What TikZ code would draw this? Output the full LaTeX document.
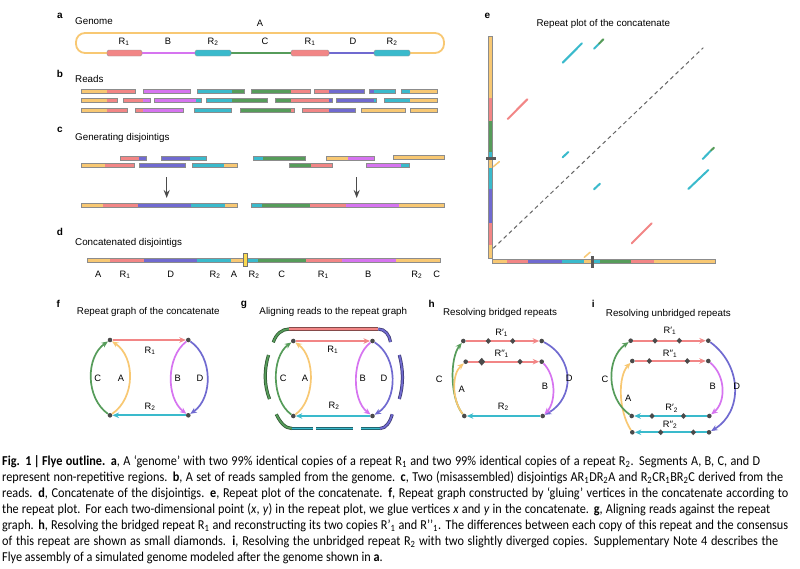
\documentclass[tikz,border=0pt]{standalone}
\usepackage{fontspec}
\setmainfont{Liberation Sans}
\newfontfamily\capfont{Carlito}[FakeStretch=0.9]
\usetikzlibrary{arrows.meta,shapes.geometric}
\definecolor{cA}{HTML}{F8C873}
\definecolor{cR}{HTML}{F28686}
\definecolor{cB}{HTML}{D674F0}
\definecolor{cT}{HTML}{3ABACC}
\definecolor{cC}{HTML}{569C5A}
\definecolor{cD}{HTML}{706AD0}
\definecolor{dotc}{HTML}{4A4A4A}
\tikzset{
 rdo/.style={draw=black!45, line width=0.5pt},
 dot/.style={circle, fill=dotc, inner sep=0pt, minimum size=4.6pt},
 dia/.style={diamond, fill=dotc, inner sep=0pt, minimum width=5.5pt, minimum height=6pt},
 bigdia/.style={diamond, fill=dotc, inner sep=0pt, minimum width=7pt, minimum height=8pt},
 edge/.style={line width=1.7pt, -{Stealth[length=6.5pt,width=5.5pt]}},
 lbl/.style={font=\fontsize{9.3}{10}\selectfont, inner sep=0pt},
 ttl/.style={font=\fontsize{9.8}{11}\selectfont, inner sep=0pt},
 plet/.style={font=\bfseries\fontsize{10}{11}\selectfont, inner sep=0pt},
 diag/.style={line width=2pt, line cap=round},
 garrow/.style={-{Stealth[length=8pt,width=6pt]}, line width=1.3pt, black!70},
 repbar/.style={draw=black!40, line width=0.4pt, rounded corners=1.5pt},
 captxt/.style={anchor=base west, inner sep=0pt, font=\capfont\fontsize{13.6}{16}\selectfont}
}
\newcommand\readbar[3]{%
  \xdef\rdx{#2}%
  \foreach \rdxe/\rdcol in {#3}{%
    \fill[\rdcol] (\rdx,#1-2) rectangle (\rdxe,#1+2);
    \xdef\rdx{\rdxe}}%
  \draw[rdo] (#2,#1-2) rectangle (\rdx,#1+2);}
\newcommand\vreadbar[3]{%
  \xdef\rdx{#2}%
  \foreach \rdxe/\rdcol in {#3}{%
    \fill[\rdcol] (#1-2,\rdx) rectangle (#1+2,\rdxe);
    \xdef\rdx{\rdxe}}%
  \draw[rdo] (#1-2,#2) rectangle (#1+2,\rdx);}
\newcommand\gread[2]{\draw[line width=3.2pt, #1!55!black] #2; \draw[line width=1.7pt, #1] #2;}
\begin{document}
\begin{tikzpicture}[x=1pt,y=-1pt]
\useasboundingbox (0,0) rectangle (800,568);
\fill[white] (0,0) rectangle (800,568);

% ---------- panel a ----------
\node[plet] (pa) at (60,16) {a};
\node[ttl, anchor=west] (ta) at (75,21) {Genome};
\draw[cA, line width=1.8pt, rounded corners=9pt] (410,53) -- (444,53) -- (444,33) -- (76,33) -- (76,53) -- (107,53);
\draw[cB, line width=1.8pt] (142,53) -- (195,53);
\draw[cC, line width=1.8pt] (231,53) -- (291,53);
\draw[cD, line width=1.8pt] (329,53) -- (374,53);
\draw[repbar, fill=cR] (107,50) rectangle (142,56);
\draw[repbar, fill=cT] (195,50) rectangle (231,56);
\draw[repbar, fill=cR] (291,50) rectangle (329,56);
\draw[repbar, fill=cT] (374,50) rectangle (410,56);
\node[lbl] (aA) at (260,23) {A};
\node[lbl] (aR1) at (124,42) {R\textsubscript{1}};
\node[lbl] (aB) at (168,41) {B};
\node[lbl] (aR2) at (213,42) {R\textsubscript{2}};
\node[lbl] (aC) at (265,41) {C};
\node[lbl] (aR1b) at (310,42) {R\textsubscript{1}};
\node[lbl] (aD) at (353,41) {D};
\node[lbl] (aR2b) at (392,42) {R\textsubscript{2}};

% ---------- panel b ----------
\node[plet] (pb) at (60,74) {b};
\node[ttl, anchor=west] (tb) at (75,79) {Reads};
\readbar{91}{81.7}{106.7/cA,135/cR}
\readbar{91}{143}{190.7/cB}
\readbar{91}{197.3}{231.7/cT,244/cC}
\readbar{91}{251}{290.7/cC,310/cR}
\readbar{91}{314.3}{329.3/cR,364.3/cD}
\readbar{91}{369.3}{374.3/cD,395.7/cT}
\readbar{91}{401}{410/cT,437.3/cA}
\readbar{100.5}{81.7}{106.7/cA,117.7/cR}
\readbar{100.5}{123}{143.3/cR,150/cB}
\readbar{100.5}{154.3}{196/cB,201.7/cT}
\readbar{100.5}{206}{231.7/cT,267.7/cC}
\readbar{100.5}{275}{290.7/cC,329.3/cR,332.7/cD}
\readbar{100.5}{336}{374.3/cD,376.7/cT}
\readbar{100.5}{384}{410/cT,437.3/cA}
\readbar{110}{81.7}{106.7/cA,127.7/cR}
\readbar{110}{135.3}{143.3/cR,183.3/cB}
\readbar{110}{194.3}{231/cT}
\readbar{110}{240}{290.7/cC,294.3/cR}
\readbar{110}{302.3}{329.3/cR,355/cD}
\readbar{110}{361}{405.7/cA}
\readbar{110}{410.7}{437.3/cA}

% ---------- panel c ----------
\node[plet] (pc) at (60,130) {c};
\node[ttl, anchor=west] (tc) at (75,138) {Generating disjointigs};
\readbar{158.3}{120.7}{139.3/cR,146.7/cD}
\readbar{158.3}{161}{190/cD,206.7/cT}
\readbar{165.7}{81.7}{105/cA,134/cR}
\readbar{165.7}{139}{185/cD}
\readbar{165.7}{192.3}{224.3/cT,237.7/cA}
\readbar{158.3}{253.7}{263.3/cT,305/cC}
\readbar{158.3}{326.7}{347.7/cA,374/cB}
\readbar{157.7}{393.3}{444/cA}
\readbar{165.7}{289.3}{311/cC,332.7/cR}
\readbar{165.7}{366}{400.7/cB,409/cT}
\coordinate (c1s) at (166.7,177);
\coordinate (c1e) at (166.7,198);
\coordinate (c2s) at (356.7,177);
\coordinate (c2e) at (356.7,198);
\draw[garrow] (c1s) -- (c1e);
\draw[garrow] (c2s) -- (c2e);
\readbar{205}{81.7}{103.3/cA,137.7/cR,190.7/cD,225/cT,237.7/cA}
\readbar{205}{251.7}{261.7/cT,310.3/cC,346/cR,399.3/cB,444/cA}

% ---------- panel d ----------
\node[plet] (pd) at (60,232) {d};
\node[ttl, anchor=west] (td) at (75,242.7) {Concatenated disjointigs};
\readbar{260}{87.7}{110/cA,144/cR,197.3/cD,231/cT,245/cA,257.7/cT,306/cC,342.3/cR,395.7/cB,440/cA}
\draw[fill=cA!70!yellow, draw=black!55, line width=0.5pt] (243.3,253.5) rectangle (247.5,266.5);
\node[lbl] (dA) at (98.3,274) {A};
\node[lbl] (dR1) at (125,275) {R\textsubscript{1}};
\node[lbl] (dD) at (170.7,274) {D};
\node[lbl] (dR2) at (215,275) {R\textsubscript{2}};
\node[lbl] (dA2) at (234,274) {A};
\node[lbl] (dR2b) at (254,275) {R\textsubscript{2}};
\node[lbl] (dC) at (281.7,274) {C};
\node[lbl] (dR1b) at (323.3,275) {R\textsubscript{1}};
\node[lbl] (dB) at (368.3,274) {B};
\node[lbl] (dR2c) at (416.7,275) {R\textsubscript{2}};
\node[lbl] (dC2) at (436.7,274) {C};

% ---------- panel e ----------
\node[plet] (pe) at (487.3,16) {e};
\node[ttl] (te) at (603.3,24) {Repeat plot of the concatenate};
\coordinate (dg1) at (493.3,248.3);
\coordinate (dg2) at (703.3,47.7);
\draw[black!60, line width=1pt, dash pattern=on 4pt off 3.2pt] (dg1) -- (dg2);
\vreadbar{490.7}{36.7}{97.7/cA,120.7/cR,151.7/cC,158.3/cT,168.3/cA,189.3/cT,222.7/cD,245/cR,258.3/cA}
\readbar{261.7}{492.7}{506.7/cA,528.3/cR,561.7/cD,584.3/cT,592.7/cA,600/cT,631/cC,654.3/cR,715/cA}
\fill[black!65] (485.5,157.2) rectangle (496,160.2);
\fill[black!65] (591.2,255.5) rectangle (594.2,268);
\draw[diag, cT] (562.7,62.7) -- (582,43.3);
\draw[diag, cT] (594,48.7) -- (599,43.7);
\draw[diag, cC] (599,43.7) -- (603.3,39.3);
\draw[diag, cR] (507.7,119) -- (527.3,99.3);
\draw[diag, cT] (562.7,157.3) -- (568.3,152);
\draw[diag, cA, line width=1.5pt] (493.3,166.7) -- (499.3,161.7);
\draw[diag, cT] (594,189.3) -- (600,183.7);
\draw[diag, cT] (702.7,159) -- (711,150.5);
\draw[diag, cC] (711,150.5) -- (714,147.7);
\draw[diag, cT] (688.3,189) -- (708.3,170);
\draw[diag, cR] (631.7,243.3) -- (651.7,223.3);
\draw[diag, cA, line width=1.5pt] (584.3,257.3) -- (590,252.3);

% ---------- panel f ----------
\node[plet] (pf) at (58.3,304) {f};
\node[ttl] (tf) at (148.3,312) {Repeat graph of the concatenate};
\node[dot] (f1) at (110,340) {};
\node[dot] (f2) at (188.3,340) {};
\node[dot] (f3) at (110,415.3) {};
\node[dot] (f4) at (188.3,415.3) {};
\draw[edge, cR] (f1) -- (f2);
\draw[edge, cT] (f4) -- (f3);
\draw[edge, cC] (f3) .. controls (85.5,398) and (85.5,357) .. (f1);
\draw[edge, cA] (f3) .. controls (135.5,398) and (135.5,357) .. (f1);
\draw[edge, cB] (f2) .. controls (166,357) and (166,398) .. (f4);
\draw[edge, cD] (f2) .. controls (213,357) and (213,398) .. (f4);
\node[lbl] (fR1) at (150,351) {R\textsubscript{1}};
\node[lbl] (fR2) at (150,407) {R\textsubscript{2}};
\node[lbl] (fC) at (97.7,378) {C};
\node[lbl] (fA) at (121,378) {A};
\node[lbl] (fB) at (177.7,378) {B};
\node[lbl] (fD) at (200,378) {D};

% ---------- panel g ----------
\node[plet] (pg) at (244,305) {g};
\node[ttl] (tg) at (333.3,312) {Aligning reads to the repeat graph};
\node[dot] (g1) at (293.3,341) {};
\node[dot] (g2) at (372.5,341) {};
\node[dot] (g3) at (293.3,416) {};
\node[dot] (g4) at (372.5,416) {};
\draw[edge, cR] (g1) -- (g2);
\draw[edge, cT] (g4) -- (g3);
\draw[edge, cC] (g3) .. controls (271.2,400) and (271.2,357) .. (g1);
\draw[edge, cA] (g3) .. controls (315.6,400) and (315.6,357) .. (g1);
\draw[edge, cB] (g2) .. controls (351.5,357) and (351.5,400) .. (g4);
\draw[edge, cD] (g2) .. controls (398.1,357) and (398.1,400) .. (g4);
\node[lbl] (gR1) at (332.7,350) {R\textsubscript{1}};
\node[lbl] (gR2) at (334,406) {R\textsubscript{2}};
\node[lbl] (gC) at (283.3,378) {C};
\node[lbl] (gA) at (305,378) {A};
\node[lbl] (gB) at (362.7,378) {B};
\node[lbl] (gD) at (384,378) {D};
% reads
\gread{cC}{(273.3,342.3) .. controls (276,334) and (282,329) .. (289.3,329)}
\gread{cR}{(289.3,329) -- (378.3,329)}
\gread{cD}{(378.3,329) .. controls (385,329) and (389.5,335) .. (390.5,342)}
\gread{cC}{(268.5,355) .. controls (264,370) and (264,385) .. (269.5,399)}
\gread{cD}{(399.3,355) .. controls (403.5,370) and (403.5,385) .. (399.3,399)}
\gread{cC}{(276.3,414.3) .. controls (280,422) and (285,428.5) .. (292,428.5)}
\gread{cT}{(292,428.5) -- (312.7,428.5)}
\gread{cT}{(316,428.5) -- (352.5,428.5)}
\gread{cT}{(361,428.5) -- (380,428.5)}
\gread{cD}{(380,428.5) .. controls (386,428.5) and (390,422) .. (392.2,414.3)}

% ---------- panel h ----------
\node[plet] (ph) at (431.7,304) {h};
\node[ttl] (th) at (500,313.3) {Resolving bridged repeats};
\node[dot] (hT0) at (463.3,341) {};
\node[dot] (hT3) at (541.7,341) {};
\node[dot] (hM0) at (465.7,361.7) {};
\node[dot] (hM3) at (541.7,361.7) {};
\node[dot] (hB0) at (464.3,416) {};
\node[dot] (hB3) at (542.7,416) {};
\draw[edge, cR] (hT0) -- (hT3);
\draw[edge, cR] (hM0) -- (hM3);
\draw[edge, cT] (hB3) -- (hB0);
\draw[edge, cC] (hB0) .. controls (449.8,398) and (449.8,358) .. (hT0);
\draw[edge, cA] (hB0) .. controls (451.7,400) and (451.7,374) .. (hM0);
\draw[edge, cD] (hT3) .. controls (574.8,358) and (574.8,398) .. (hB3);
\draw[edge, cB] (hM3) .. controls (556.1,376) and (556.1,402) .. (hB3);
\node[dia] (hd1) at (488.3,341) {};
\node[dia] (hd2) at (512.7,341) {};
\node[bigdia] (hd3) at (481.7,361.7) {};
\node[dia] (hd4) at (520,361.7) {};
\node[lbl] (hR1a) at (501.7,333) {R′\textsubscript{1}};
\node[lbl] (hR1b) at (501.7,353.5) {R′′\textsubscript{1}};
\node[lbl] (hC) at (439.3,379.3) {C};
\node[lbl] (hA) at (461.7,389) {A};
\node[lbl] (hB) at (545,386.7) {B};
\node[lbl] (hD) at (569.3,378.3) {D};
\node[lbl] (hR2) at (503.3,407) {R\textsubscript{2}};

% ---------- panel i ----------
\node[plet] (pi) at (593.3,304) {i};
\node[ttl] (ti) at (668.3,314) {Resolving unbridged repeats};
\node[dot] (iT0) at (630.7,340.7) {};
\node[dot] (iT3) at (708.3,340.7) {};
\node[dot] (iM0) at (632.3,361) {};
\node[dot] (iM3) at (708.3,361) {};
\node[dot] (iP0) at (631.7,416) {};
\node[dot] (iP3) at (709.3,416) {};
\node[dot] (iQ0) at (632.3,432.3) {};
\node[dot] (iQ3) at (709,432.3) {};
\draw[edge, cA] (iQ0) .. controls (618,410) and (618,376) .. (iM0);
\draw[edge, cR] (iT0) -- (iT3);
\draw[edge, cR] (iM0) -- (iM3);
\draw[edge, cT] (iP3) -- (iP0);
\draw[edge, cT] (iQ3) -- (iQ0);
\draw[edge, cC] (iP0) .. controls (606,398) and (606,358) .. (iT0);
\draw[edge, cB] (iM3) .. controls (726,376) and (726,402) .. (iP3);
\draw[edge, cD] (iT3) .. controls (742.7,366) and (742.7,412) .. (iQ3);
\node[dia] (id1) at (655,340.7) {};
\node[dia] (id2) at (679.3,340.7) {};
\node[dia] (id3) at (649.3,361) {};
\node[dia] (id4) at (687.3,361) {};
\node[dia] (id5) at (652,416) {};
\node[dia] (id6) at (683.5,416) {};
\node[dia] (id7) at (660.7,432.3) {};
\node[dia] (id8) at (693.3,432.3) {};
\node[lbl] (iR1a) at (670,331) {R′\textsubscript{1}};
\node[lbl] (iR1b) at (670,353.5) {R′′\textsubscript{1}};
\node[lbl] (iC) at (605,379.3) {C};
\node[lbl] (iA) at (628.3,398.3) {A};
\node[lbl] (iB) at (712.7,386.7) {B};
\node[lbl] (iD) at (736.7,386.7) {D};
\node[lbl] (iR2a) at (671.7,408.5) {R′\textsubscript{2}};
\node[lbl] (iR2b) at (670,424.7) {R′′\textsubscript{2}};

% ---------- caption ----------
\node[captxt] (cap1) at (2,465.7) {\makebox[758pt][s]{\textbf{Fig. 1\,|\,Flye outline. a}, A ‘genome’ with two 99\% identical copies of a repeat R\textsubscript{1} and two 99\% identical copies of a repeat R\textsubscript{2}. Segments A, B, C, and D}};
\node[captxt] (cap2) at (2,481.7) {\makebox[781pt][s]{represent non-repetitive regions. \textbf{b}, A set of reads sampled from the genome. \textbf{c}, Two (misassembled) disjointigs AR\textsubscript{1}DR\textsubscript{2}A and R\textsubscript{2}CR\textsubscript{1}BR\textsubscript{2}C derived from the}};
\node[captxt] (cap3) at (2,497.7) {\makebox[786pt][s]{reads. \textbf{d}, Concatenate of the disjointigs. \textbf{e}, Repeat plot of the concatenate. \textbf{f}, Repeat graph constructed by ‘gluing’ vertices in the concatenate according to}};
\node[captxt] (cap4) at (2,513.7) {\makebox[768pt][s]{the repeat plot. For each two-dimensional point (\textit{x}, \textit{y}) in the repeat plot, we glue vertices \textit{x} and \textit{y} in the concatenate. \textbf{g}, Aligning reads against the repeat}};
\node[captxt] (cap5) at (2,529.7) {\makebox[786pt][s]{graph. \textbf{h}, Resolving the bridged repeat R\textsubscript{1} and reconstructing its two copies R’\textsubscript{1} and R’’\textsubscript{1}. The differences between each copy of this repeat and the consensus}};
\node[captxt] (cap6) at (2,545.7) {\makebox[776pt][s]{of this repeat are shown as small diamonds. \textbf{i}, Resolving the unbridged repeat R\textsubscript{2} with two slightly diverged copies. Supplementary Note 4 describes the}};
\node[captxt] (cap7) at (2,561.7) {Flye assembly of a simulated genome modeled after the genome shown in \textbf{a}.};
\end{tikzpicture}
\end{document}
